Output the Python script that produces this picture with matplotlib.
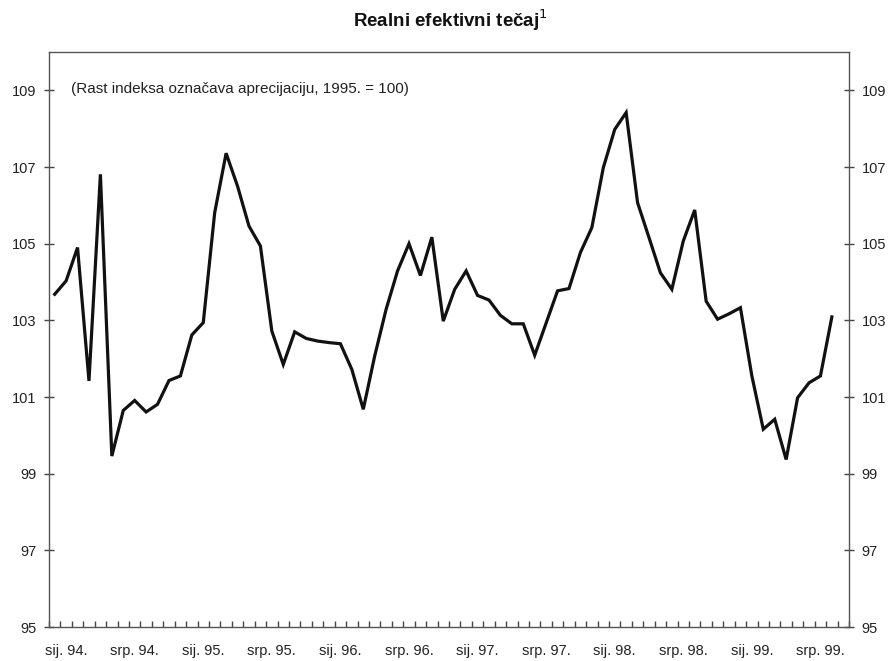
import matplotlib.pyplot as plt
import numpy as np

plt.rcParams['font.family'] = ['Liberation Sans', 'DejaVu Sans']

# monthly index, pro. 93. - kol. 99.
values = [103.68, 104.03, 104.90, 101.42, 106.81, 99.46, 100.65, 100.91, 100.61, 100.81,
          101.43, 101.55, 102.62, 102.94, 105.81, 107.36, 106.50, 105.46, 104.94, 102.72,
          101.85, 102.70, 102.53, 102.46, 102.42, 102.39, 101.72, 100.68, 102.07, 103.29,
          104.29, 105.00, 104.17, 105.17, 102.98, 103.81, 104.29, 103.65, 103.53, 103.13,
          102.91, 102.91, 102.09, 102.93, 103.77, 103.83, 104.77, 105.42, 106.98, 107.98,
          108.42, 106.07, 105.16, 104.24, 103.81, 105.07, 105.88, 103.50, 103.03, 103.17,
          103.33, 101.55, 100.16, 100.42, 99.37, 100.98, 101.37, 101.55, 103.09]
tick_labels = ['sij. 94.', 'srp. 94.', 'sij. 95.', 'srp. 95.', 'sij. 96.', 'srp. 96.',
               'sij. 97.', 'srp. 97.', 'sij. 98.', 'srp. 98.', 'sij. 99.', 'srp. 99.']
y_ticks = [95, 97, 99, 101, 103, 105, 107, 109]

n_cat = len(values) + 1
x = np.arange(len(values))

fig = plt.figure(figsize=(8.92, 6.61), dpi=100)
ax = fig.add_axes([0.0549, 0.0514, 0.8969, 0.8699])

ax.plot(x, values, color='#111111', lw=2.3, solid_joinstyle='miter')

ax.set_xlim(-0.5, n_cat - 0.5)
ax.set_ylim(95, 110)

ax.set_yticks(y_ticks)
ax.set_yticklabels([str(v) for v in y_ticks])
ax.tick_params(axis='y', which='major', direction='inout', length=7, width=1, color='#444444',
               left=True, right=True, labelleft=True, labelright=True, labelsize=10.5, pad=5.5,
               labelcolor='#222222')

ax.set_xticks(np.arange(1, n_cat, 6)[:len(tick_labels)])
ax.set_xticklabels(tick_labels)
ax.set_xticks(np.arange(-0.5, n_cat, 1), minor=True)
ax.tick_params(axis='x', which='major', length=0, labelsize=10.5, pad=12, labelcolor='#222222')
ax.tick_params(axis='x', which='minor', direction='in', length=4, width=1, color='#444444')

for s in ax.spines.values():
    s.set_color('#555555')
    s.set_linewidth(1)

ax.text(0.028, 0.935, '(Rast indeksa označava aprecijaciju, 1995. = 100)',
        transform=ax.transAxes, fontsize=11, color='#222222', va='center', ha='left')

fig.text(0.505, 0.969, 'Realni efektivni tečaj$^{1}$', ha='center', va='center',
         fontsize=13.5, fontweight='bold', color='#111111')

fig.savefig('out.png', dpi=100)
